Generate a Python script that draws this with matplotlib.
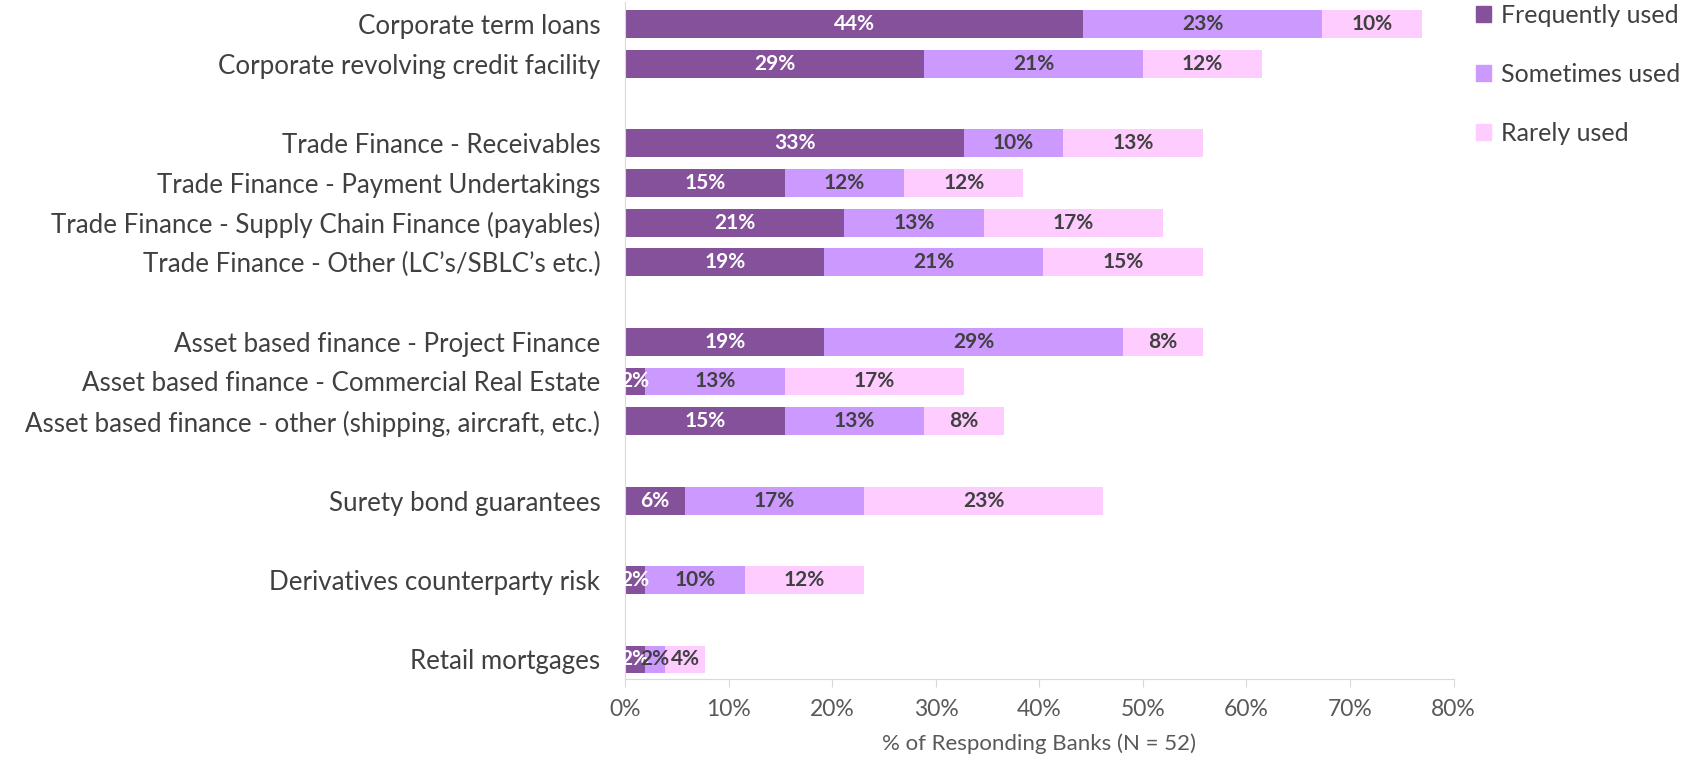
import matplotlib.pyplot as plt
from matplotlib.patches import Patch
from matplotlib.ticker import PercentFormatter

plt.rcParams["font.family"] = ["Lato", "DejaVu Sans"]

# カテゴリ（グループごと）
groups = [
    ["Corporate term loans",
     "Corporate revolving credit facility"],
    ["Trade Finance - Receivables",
     "Trade Finance - Payment Undertakings",
     "Trade Finance - Supply Chain Finance (payables)",
     "Trade Finance - Other (LC\u2019s/SBLC\u2019s etc.)"],
    ["Asset based finance - Project Finance",
     "Asset based finance - Commercial Real Estate",
     "Asset based finance - other (shipping, aircraft, etc.)"],
    ["Surety bond guarantees"],
    ["Derivatives counterparty risk"],
    ["Retail mortgages"],
]

# % of responding banks (N = 52)
frequently = [44.23, 28.85, 32.69, 15.38, 21.15, 19.23, 19.23, 1.92, 15.38, 5.77, 1.92, 1.92]
sometimes = [23.08, 21.15, 9.62, 11.54, 13.46, 21.15, 28.85, 13.46, 13.46, 17.31, 9.62, 1.92]
rarely = [9.62, 11.54, 13.46, 11.54, 17.31, 15.38, 7.69, 17.31, 7.69, 23.08, 11.54, 3.85]

series_names = ["Frequently used", "Sometimes used", "Rarely used"]
colors = ["#86519B", "#CC99FF", "#FFCCFF"]
text_colors = ["white", "#404040", "#404040"]

# y位置：グループの間に空き行を入れる
labels = []
ypos = []
slot = 0
for g in groups:
    for name in g:
        labels.append(name)
        ypos.append(slot)
        slot += 1
    slot += 1

fig = plt.figure(figsize=(17.04, 7.59), dpi=100)
ax = fig.add_axes([0.367, 0.105, 0.486, 0.892])

left = [0.0] * len(labels)
for vals, name, c, tc in zip([frequently, sometimes, rarely], series_names, colors, text_colors):
    ax.barh(ypos, vals, left=left, height=0.7, color=c, label=name)
    for y, l, v in zip(ypos, left, vals):
        ax.text(l + v / 2, y, f"{v:.0f}%", ha="center", va="center",
                color=tc, fontsize=15, fontweight="bold")
    left = [a + b for a, b in zip(left, vals)]

ax.set_yticks(ypos)
ax.set_yticklabels(labels, fontsize=18.6, color="#404040")
ax.set_ylim(slot - 1.5, -0.55)
ax.set_xlim(0, 80)
ax.set_xticks(range(0, 81, 10))
ax.xaxis.set_major_formatter(PercentFormatter(decimals=0))
ax.tick_params(axis="x", labelsize=16.5, colors="#595959", length=6, color="#D9D9D9", pad=8)
ax.tick_params(axis="y", length=0, pad=18)
ax.set_xlabel("% of Responding Banks (N = 52)", fontsize=16, color="#595959", labelpad=10)

for s in ["top", "right"]:
    ax.spines[s].set_visible(False)
ax.spines["left"].set_color("#D9D9D9")
ax.spines["bottom"].set_color("#D9D9D9")

handles = [Patch(color=c) for c in colors]
fig.legend(handles, series_names, loc="upper left", bbox_to_anchor=(0.853, 1.025),
           frameon=False, fontsize=18, handlelength=0.6, handleheight=0.6,
           labelspacing=1.45, handletextpad=0.4, labelcolor="#404040")

plt.savefig("out.png", dpi=100)
